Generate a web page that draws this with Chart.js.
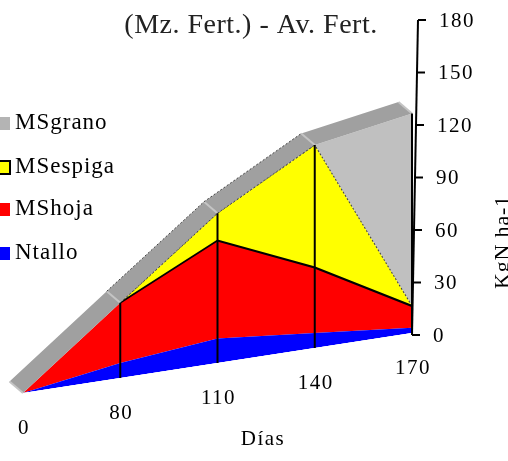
<!DOCTYPE html>
<html>
<head>
<meta charset="utf-8">
<title>(Mz. Fert.) - Av. Fert.</title>
<script src="https://cdn.jsdelivr.net/npm/chart.js@4"></script>
<style>
  html, body { margin: 0; padding: 0; background: #fff; }
  canvas { display: block; }
</style>
</head>
<body>
<canvas id="fertChart" width="508" height="461"></canvas>
<script>
// Chart data (each series is stacked on the one before)
let dias = ['0', '80', '110', '140', '170'];
let ntallo = [0, 8.6, 14, 8.6, 3];
let mshoja = [0, 34.4, 56, 37.4, 12.4];
let msespiga = [0, 0, 15.6, 70, 0];
let msgrano = [0, 0, 0, 0, 110];
let yTicks = [0, 30, 60, 90, 120, 150, 180];

const FONT = '"Liberation Serif", "Times New Roman", serif';
const SKEW = 60 / 389;      // slope of the floor of the 3D chart
const DEPTH_X = -13.5;      // offset of the back edge of the grey top band
const DEPTH_Y = -11.5;

// Screen position of a point of the sheared plot
let skewed = (chart, x, y) => ({
  x: x,
  y: y + SKEW * (chart.chartArea.right - x)
});

let drawText = (ctx, text, x, y, size, align, spacing, color) => {
  ctx.font = size + 'px ' + FONT;
  ctx.fillStyle = color || '#000';
  ctx.textAlign = align || 'left';
  ctx.textBaseline = 'middle';
  ctx.letterSpacing = (spacing || 0) + 'px';
  ctx.fillText(text, x, y);
};

// Everything between the datasets is drawn on a sheared canvas
let skewPlugin = {
  id: 'skewPlugin',
  beforeDatasetsDraw(chart) {
    let ctx = chart.ctx;
    ctx.save();
    ctx.transform(1, -SKEW, 0, 1, 0, SKEW * chart.chartArea.right);
  },
  afterDatasetsDraw(chart) {
    let ctx = chart.ctx;
    ctx.restore();

    let xScale = chart.scales.x;
    let yScale = chart.scales.y;
    let front = dias.map((d, i) => {
      let total = ntallo[i] + mshoja[i] + msespiga[i] + msgrano[i];
      return skewed(chart, xScale.getPixelForValue(i), yScale.getPixelForValue(total));
    });
    let back = front.map(p => ({ x: p.x + DEPTH_X, y: p.y + DEPTH_Y }));

    // Grey top band
    ctx.save();
    ctx.beginPath();
    front.forEach((p, i) => i ? ctx.lineTo(p.x, p.y) : ctx.moveTo(p.x, p.y));
    back.slice().reverse().forEach(p => ctx.lineTo(p.x, p.y));
    ctx.closePath();
    ctx.fillStyle = '#a0a0a0';
    ctx.fill();

    // Lighter joints of the band
    ctx.strokeStyle = '#c4c4c4';
    ctx.lineWidth = 2;
    front.forEach((p, i) => {
      ctx.beginPath();
      ctx.moveTo(p.x, p.y);
      ctx.lineTo(back[i].x, back[i].y);
      ctx.stroke();
    });

    // Dotted edges of the band, only from 80 to 140
    ctx.strokeStyle = '#444';
    ctx.lineWidth = 1;
    ctx.setLineDash([2, 2]);
    [front, back].forEach(edge => {
      ctx.beginPath();
      ctx.moveTo(edge[1].x, edge[1].y);
      ctx.lineTo(edge[2].x, edge[2].y);
      ctx.lineTo(edge[3].x, edge[3].y);
      ctx.stroke();
    });
    ctx.setLineDash([]);

    // Drop lines from the top of the stack to the floor
    ctx.strokeStyle = '#000';
    ctx.lineWidth = 2;
    dias.forEach((d, i) => {
      if (i === 0) return;
      let x = xScale.getPixelForValue(i);
      let floor = skewed(chart, x, yScale.getPixelForValue(0));
      ctx.beginPath();
      ctx.moveTo(front[i].x, front[i].y);
      ctx.lineTo(floor.x, floor.y);
      ctx.stroke();
    });
    ctx.restore();
  },
  afterDraw(chart) {
    let ctx = chart.ctx;
    let xScale = chart.scales.x;
    let yScale = chart.scales.y;
    ctx.save();

    // Value axis, leaning slightly to the right
    let axisX = v => 412 + v / 180 * 6;
    let axisY = v => yScale.getPixelForValue(v) + 2;
    ctx.strokeStyle = '#000';
    ctx.lineWidth = 2;
    ctx.beginPath();
    ctx.moveTo(axisX(0), axisY(0));
    ctx.lineTo(axisX(180), axisY(180));
    ctx.stroke();
    yTicks.forEach(v => {
      ctx.beginPath();
      ctx.moveTo(axisX(v), axisY(v));
      ctx.lineTo(axisX(v) + 8, axisY(v));
      ctx.stroke();
      drawText(ctx, String(v), axisX(v) + 21, axisY(v) + 1, 21, 'left', 1.5);
    });

    // Category labels follow the floor
    dias.forEach((d, i) => {
      let x = xScale.getPixelForValue(i);
      let p = skewed(chart, x, yScale.getPixelForValue(0));
      drawText(ctx, d, x + 1, p.y + 35, 21, 'center', 1.5);
    });

    drawText(ctx, '(Mz. Fert.) - Av. Fert.', 251, 26, 28, 'center', 0.5, '#222');
    drawText(ctx, 'Días', 263, 439, 21, 'center', 1.5);

    ctx.save();
    ctx.translate(503, 242);
    ctx.rotate(-Math.PI / 2);
    drawText(ctx, 'KgN ha-1', 0, 0, 22, 'center', 0.8);
    ctx.restore();

    // Legend, cut by the left border as in the picture
    let legend = [
      ['MSgrano', '#b4b4b4', false, 123],
      ['MSespiga', '#ffff00', true, 167],
      ['MShoja', '#ff0000', false, 209],
      ['Ntallo', '#0000ff', false, 253]
    ];
    legend.forEach(item => {
      ctx.fillStyle = item[1];
      ctx.fillRect(-1, item[3] - 6, 11, 13);
      if (item[2]) {
        ctx.strokeStyle = '#000';
        ctx.lineWidth = 2;
        ctx.strokeRect(-1, item[3] - 6, 11, 13);
      }
      drawText(ctx, item[0], 15, item[3], 23, 'left', 1);
    });
    ctx.restore();
  }
};

// The first stretch of these lines has no border
let fromSecond = color => ({
  borderColor: c => c.p0DataIndex === 0 ? 'transparent' : color
});

new Chart(document.getElementById('fertChart'), {
  type: 'line',
  data: {
    labels: dias,
    datasets: [
      { label: 'Ntallo', data: ntallo, backgroundColor: '#0000ff', borderWidth: 0, fill: 'origin', clip: false },
      { label: 'MShoja', data: mshoja, backgroundColor: '#ff0000', borderColor: '#000', borderWidth: 2, fill: '-1', clip: false, segment: fromSecond('#000') },
      { label: 'MSespiga', data: msespiga, backgroundColor: '#ffff00', borderColor: '#444', borderWidth: 1, borderDash: [2, 2], fill: '-1', clip: false, segment: fromSecond('#444') },
      { label: 'MSgrano', data: msgrano, backgroundColor: '#c0c0c0', borderWidth: 0, fill: '-1', clip: false }
    ]
  },
  options: {
    responsive: false,
    animation: false,
    events: [],
    layout: { padding: { left: 23, right: 96, top: 18, bottom: 128 } },
    elements: { point: { radius: 0 }, line: { tension: 0 } },
    plugins: { legend: { display: false }, title: { display: false }, tooltip: { enabled: false } },
    scales: {
      x: { display: false, offset: false },
      y: { display: false, stacked: true, min: 0, max: 180, ticks: { stepSize: 30 } }
    }
  },
  plugins: [skewPlugin]
});
</script>
</body>
</html>
